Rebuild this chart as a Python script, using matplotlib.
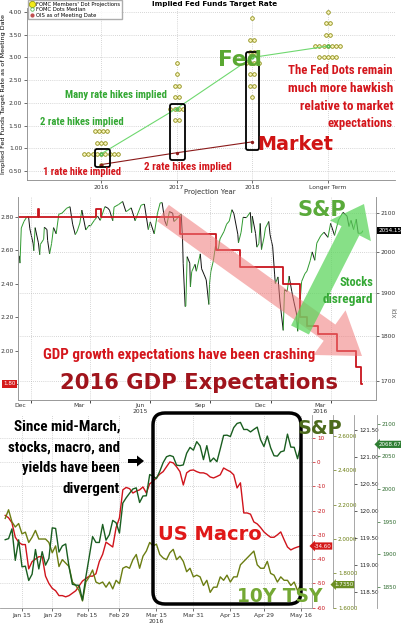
import numpy as np
import pandas as pd
import matplotlib
matplotlib.use("Agg")
import matplotlib.pyplot as plt
import matplotlib.dates as mdates
from matplotlib.lines import Line2D
from matplotlib.patches import FancyArrow, FancyBboxPatch
from matplotlib.collections import LineCollection
from matplotlib.ticker import FixedLocator, FuncFormatter, NullLocator
import logging
logging.getLogger('matplotlib.font_manager').setLevel(logging.ERROR)

plt.rcParams['font.family'] = ['DejaVu Sans']
plt.rcParams['axes.unicode_minus'] = False

# ---------------- Panel 1 data: FOMC dots vs OIS ----------------
proj_years = ["2016", "2017", "2018", "Longer Term"]
dots_2016_rate = [0.625, 0.875, 1.125, 1.375]
dots_2016_n = [1, 9, 3, 4]
dots_2017_rate = [1.625, 1.875, 2.125, 2.375, 2.625, 2.875]
dots_2017_n = [2, 4, 2, 2, 1, 1]
dots_2018_rate = [2.125, 2.375, 2.625, 2.875, 3.125, 3.375, 3.875]
dots_2018_n = [1, 2, 2, 4, 2, 2, 1]
dots_lr_rate = [3.0, 3.25, 3.5, 3.75, 4.0]
dots_lr_n = [5, 7, 2, 2, 1]
fomc_median = [0.875, 1.875, 3.0, 3.25]
ois_rate = [0.64, 0.90, 1.14]

# ---------------- Panel 2 data: S&P 500 vs 2016 GDP forecast ----------------
spx_p2_dates = ['2014-12-15', '2014-12-16', '2014-12-18', '2014-12-22', '2014-12-26', '2014-12-29', '2014-12-31',
                '2015-01-05', '2015-01-06', '2015-01-08', '2015-01-13', '2015-01-15', '2015-01-16', '2015-01-21',
                '2015-01-22', '2015-01-26', '2015-01-27', '2015-01-30', '2015-02-02', '2015-02-05', '2015-02-09',
                '2015-02-13', '2015-02-18', '2015-02-25', '2015-03-02', '2015-03-06', '2015-03-10', '2015-03-13',
                '2015-03-17', '2015-03-20', '2015-03-26', '2015-03-31', '2015-04-02', '2015-04-08', '2015-04-13',
                '2015-04-17', '2015-04-24', '2015-04-28', '2015-05-01', '2015-05-06', '2015-05-08', '2015-05-15',
                '2015-05-21', '2015-05-26', '2015-05-29', '2015-06-03', '2015-06-09', '2015-06-12', '2015-06-18',
                '2015-06-23', '2015-06-29', '2015-07-02', '2015-07-08', '2015-07-13', '2015-07-17', '2015-07-20',
                '2015-07-24', '2015-07-27', '2015-07-31', '2015-08-05', '2015-08-07', '2015-08-11', '2015-08-14',
                '2015-08-18', '2015-08-20', '2015-08-21', '2015-08-24', '2015-08-25', '2015-08-27', '2015-08-31',
                '2015-09-01', '2015-09-03', '2015-09-08', '2015-09-10', '2015-09-16', '2015-09-18', '2015-09-22',
                '2015-09-25', '2015-09-29', '2015-09-30', '2015-10-02', '2015-10-06', '2015-10-09', '2015-10-13',
                '2015-10-16', '2015-10-22', '2015-10-26', '2015-10-30', '2015-11-03', '2015-11-06', '2015-11-12',
                '2015-11-13', '2015-11-17', '2015-11-20', '2015-11-25', '2015-12-01', '2015-12-03', '2015-12-04',
                '2015-12-09', '2015-12-11', '2015-12-14', '2015-12-16', '2015-12-18', '2015-12-22', '2015-12-24',
                '2015-12-29', '2015-12-31', '2016-01-04', '2016-01-07', '2016-01-08', '2016-01-12', '2016-01-15',
                '2016-01-20', '2016-01-22', '2016-01-26', '2016-01-29', '2016-02-02', '2016-02-05', '2016-02-09',
                '2016-02-11', '2016-02-17', '2016-02-22', '2016-02-25', '2016-03-01', '2016-03-04', '2016-03-08',
                '2016-03-11', '2016-03-17', '2016-03-22', '2016-03-28', '2016-04-01', '2016-04-07', '2016-04-13',
                '2016-04-20', '2016-04-26', '2016-04-29', '2016-05-02', '2016-05-06', '2016-05-10', '2016-05-13',
                '2016-05-18', '2016-05-20']
spx_p2_vals = [1990, 1972, 2061, 2078, 2089, 2091, 2059,
               2021, 2003, 2062, 2023, 1993, 2019, 2032,
               2063, 2057, 2029, 1995, 2021, 2062, 2046,
               2097, 2100, 2113, 2117, 2071, 2044, 2053,
               2074, 2108, 2056, 2068, 2066, 2081, 2092,
               2081, 2117, 2114, 2108, 2080, 2116, 2123,
               2131, 2104, 2107, 2114, 2080, 2094, 2121,
               2124, 2057, 2077, 2046, 2100, 2127, 2128,
               2080, 2067, 2104, 2100, 2078, 2084, 2092,
               2097, 2035, 1971, 1867, 1868, 1988, 1972,
               1914, 1951, 1969, 1952, 1995, 1958, 1943,
               1931, 1872, 1920, 1951, 1979, 2014, 2003,
               2033, 2052, 2071, 2079, 2109, 2099, 2045,
               2023, 2050, 2089, 2088, 2102, 2049, 2092,
               2047, 2012, 2021, 2073, 2006, 2038, 2061,
               2078, 2044, 2013, 1943, 1922, 1938, 1880,
               1812, 1907, 1903, 1940, 1903, 1880, 1852,
               1810, 1927, 1946, 1952, 1978, 2000, 1979,
               2022, 2041, 2050, 2037, 2073, 2042, 2082,
               2102, 2092, 2065, 2081, 2057, 2084, 2047,
               2048, 2054.15]
gdp16_dates = ['2014-12-13', '2015-01-12', '2015-01-14', '2015-04-10', '2015-04-18', '2015-08-16',
               '2015-10-10', '2015-11-15', '2016-01-19', '2016-02-14', '2016-02-25', '2016-03-13',
               '2016-04-11', '2016-05-09', '2016-05-17', '2016-05-19']
gdp16_vals = [2.80, 2.85, 2.80, 2.85, 2.80, 2.70,
              2.60, 2.50, 2.40, 2.20, 2.15, 2.10,
              2.00, 1.90, 1.80, 1.80]

# ---------------- Panel 3 data: S&P, US Macro surprise, 10Y yield (daily) ----------------
p3_holidays = ['2016-01-18', '2016-02-15', '2016-03-25']
p3_dates = [d for d in pd.bdate_range('2016-01-08', '2016-05-16') if d.strftime('%Y-%m-%d') not in p3_holidays]
spx16 = [1922.03, 1923.67, 1938.68, 1890.28, 1921.84, 1880.33, 1881.33, 1859.33, 1868.99, 1906.90,
         1877.08, 1903.63, 1882.95, 1893.36, 1940.24,
         1939.38, 1903.03, 1912.53, 1915.45, 1880.05, 1853.44, 1852.21, 1851.86, 1829.08, 1864.78,
         1895.58, 1926.82, 1917.83, 1917.78, 1945.50, 1921.27, 1929.80, 1951.70, 1948.05, 1932.23,
         1978.35, 1986.45, 1993.40, 1999.99, 2001.76, 1979.26, 1989.26, 1989.57, 2022.19, 2019.64,
         2015.93, 2027.22, 2040.59, 2049.58, 2051.60, 2049.80, 2036.71, 2035.94, 2037.05, 2055.01,
         2063.95, 2059.74,
         2072.78, 2066.13, 2045.17, 2066.66, 2041.91, 2047.60, 2041.99, 2061.72, 2082.42, 2082.78,
         2080.73, 2094.34, 2100.80, 2102.40, 2091.48, 2091.58, 2087.79, 2091.70, 2095.15, 2075.81,
         2065.30,
         2081.43, 2063.37, 2051.12, 2050.63, 2057.14, 2058.69, 2084.39, 2064.46, 2064.11, 2046.61,
         2068.67]
ust10y = [2.12, 2.17, 2.10, 2.07, 2.09, 2.03, 2.04, 1.98, 2.01, 2.05,
          2.00, 2.00, 2.00, 1.98, 1.92,
          1.96, 1.84, 1.88, 1.86, 1.84, 1.75, 1.73, 1.70, 1.64, 1.75,
          1.78, 1.82, 1.75, 1.74, 1.75, 1.72, 1.75, 1.71, 1.76, 1.74,
          1.83, 1.84, 1.83, 1.88, 1.91, 1.83, 1.90, 1.93, 1.98, 1.96,
          1.97, 1.91, 1.89, 1.88, 1.92, 1.94, 1.88, 1.90, 1.87, 1.81,
          1.83, 1.78,
          1.79, 1.78, 1.73, 1.76, 1.69, 1.72, 1.72, 1.78, 1.76, 1.79,
          1.75, 1.78, 1.78, 1.85, 1.87, 1.89, 1.91, 1.93, 1.85, 1.83,
          1.83,
          1.87, 1.80, 1.79, 1.75, 1.78, 1.76, 1.76, 1.73, 1.75, 1.70,
          1.735]
us_macro = [-22, -23, -25, -31, -33, -34, -34, -44, -41, -40,
            -39, -39, -47, -50, -52, -53, -55, -55, -55.5, -55,
            -54, -53, -51, -49, -48, -47, -47, -46, -41, -38,
            -33, -34, -35, -27, -23, -11.5, -10.5, -11, -12.8, -12,
            -11.5, -10.3, -12.8, -9, -8, -6.5, -5, -4, -2, 0,
            -0.4, -2, -4, -9.5, -4.5, -3.5, -3.3, -4, -4.5, -4.5,
            -5, -6.2, -6.6, -6, -5.3, -2.5, -3.3, -4, -5.3, -10.7,
            -8.6, -21, -21, -21.5, -24.7, -25.5, -27, -28.8, -30, -31,
            -31, -30, -28.8, -32, -35, -36.2, -35.5, -35, -34.6]
p3_tick_dates = ['2016-01-15', '2016-01-29', '2016-02-15', '2016-02-29', '2016-03-15',
                 '2016-03-31', '2016-04-15', '2016-04-29', '2016-05-16']
p3_tick_labels = ['Jan 15', 'Jan 29', 'Feb 15', 'Feb 29', 'Mar 15\n2016',
                  'Mar 31', 'Apr 15', 'Apr 29', 'May 16']

# ---------------- figure ----------------
W, H = 401, 625
fig = plt.figure(figsize=(W / 100, H / 100), dpi=100)
fig.patch.set_facecolor('white')


def frect(x0, y0, x1, y1):
    return [x0 / W, 1 - y1 / H, (x1 - x0) / W, (y1 - y0) / H]


COND = ['Roboto Condensed', 'Open Sans Condensed', 'Liberation Sans Narrow', 'Roboto', 'DejaVu Sans']
GRID = dict(ls=(0, (1, 2)), color='#b0b0b0', lw=0.5)

# ================= Panel 1 =================
ax1 = fig.add_axes(frect(27, 8, 395, 180))
ax1.set_xlim(-0.98, 3.89)
ax1.set_ylim(0.30, 4.09)
yt = np.arange(0.5, 4.01, 0.5)
ax1.set_yticks(yt)
ax1.set_yticklabels([f'{v:.2f}' for v in yt])
ax1.set_xticks(range(len(proj_years)))
ax1.set_xticklabels(proj_years)
ax1.tick_params(labelsize=4.3, length=2, width=0.5, pad=1.5, colors='#333333')
ax1.grid(True, **GRID)
for s in ['top', 'right']:
    ax1.spines[s].set_visible(False)
for s in ['left', 'bottom']:
    ax1.spines[s].set_color('#888888')
    ax1.spines[s].set_linewidth(0.6)

all_rates = [dots_2016_rate, dots_2017_rate, dots_2018_rate, dots_lr_rate]
all_n = [dots_2016_n, dots_2017_n, dots_2018_n, dots_lr_n]
for i, (rates, ns) in enumerate(zip(all_rates, all_n)):
    for r, n in zip(rates, ns):
        xs = i + (np.arange(n) - (n - 1) / 2) * 0.056
        ax1.plot(xs, [r] * n, ls='none', marker='o', ms=2.6, mfc='#fbf7c0',
                 mec='#8c8c14', mew=0.6, zorder=3)
ax1.plot(range(len(fomc_median)), fomc_median, color='#6fd86f', lw=0.8, marker='o', ms=2,
         mfc='none', mec='#55bb55', zorder=4)
ax1.plot(range(len(ois_rate)), ois_rate, color='#8b1a1a', lw=0.8, marker='o', ms=1.4, zorder=4)
ax1.set_ylabel('Implied Fed Funds Target Rate as of Meeting Date', fontsize=4.6, labelpad=2)
fig.text(210 / W, 1 - 192 / H, 'Projection Year', ha='center', va='center', fontsize=5, color='#333333')

handles = [Line2D([], [], ls='none', marker='o', ms=4.5, mfc='#f2ea1a', mec='#9a9a10', mew=0.6),
           Line2D([], [], ls='none', marker='o', ms=2.5, mfc='none', mec='#55bb55', mew=0.6),
           Line2D([], [], ls='none', marker='o', ms=2, mfc='#c05050', mec='#c05050')]
fig.legend(handles, ["FOMC Members' Dot Projections", 'FOMC Dots Median', 'OIS as of Meeting Date'],
           loc='upper left', bbox_to_anchor=(28 / W, 1.0), fontsize=3.8, frameon=True,
           edgecolor='#999999', fancybox=False, borderpad=0.3, handletextpad=0.2,
           labelspacing=0.1, handlelength=1.0, borderaxespad=0)
fig.text(215 / W, 1 - 4 / H, 'Implied Fed Funds Target Rate', ha='center', va='center',
         fontsize=5.2, fontweight='bold')

# ================= Panel 2 =================
ax2 = fig.add_axes(frect(18, 197, 376, 400))
ax2r = ax2.twinx()
x_lo = mdates.date2num(pd.Timestamp('2014-12-13'))
x_hi = mdates.date2num(pd.Timestamp('2016-06-09'))
ax2.set_xlim(x_lo, x_hi)
ax2.set_ylim(1.704, 2.92)
ax2r.set_yscale('log')
ax2r.set_ylim(1660, 2143)

sx = mdates.date2num(pd.to_datetime(spx_p2_dates))
sv = np.array(spx_p2_vals, dtype=float)
pts = np.column_stack([sx, sv])
segs = np.stack([pts[:-1], pts[1:]], axis=1)
cols = ['#2f9a2f' if b >= a else '#111111' for a, b in zip(sv[:-1], sv[1:])]
ax2r.add_collection(LineCollection(segs, colors=cols, linewidths=0.7))

gx = mdates.date2num(pd.to_datetime(gdp16_dates))
ax2.step(gx, gdp16_vals, where='post', color='#c8141c', lw=1.3)
ax2.set_zorder(ax2r.get_zorder() + 1)
ax2.patch.set_visible(False)
ax2r.patch.set_visible(False)

gyt = [1.8, 2.0, 2.2, 2.4, 2.6, 2.8]
ax2.set_yticks(gyt)
# the last GDP value is shown in a red tag, so its plain tick label is left blank
ax2.set_yticklabels(['' if abs(v - gdp16_vals[-1]) < 1e-9 else f'{v:.2f}' for v in gyt])
ax2r.yaxis.set_major_locator(FixedLocator([1700, 1800, 1900, 2000, 2100]))
ax2r.yaxis.set_major_formatter(FuncFormatter(lambda v, p: f'{v:.0f}'))
ax2r.yaxis.set_minor_locator(NullLocator())
ax2r.grid(True, axis='y', **GRID)

mid_months = ['2014-12-16', '2015-03-16', '2015-06-16', '2015-09-16', '2015-12-16', '2016-03-16']
ax2.set_xticks(mdates.date2num(pd.to_datetime(mid_months)))
ax2.set_xticklabels(['Dec', 'Mar', 'Jun\n2015', 'Sep', 'Dec', 'Mar\n2016'])
q_starts = ['2015-01-01', '2015-04-01', '2015-07-01', '2015-10-01', '2016-01-01', '2016-04-01']
ax2.set_xticks(mdates.date2num(pd.to_datetime(q_starts)), minor=True)
ax2.grid(True, axis='x', which='minor', **GRID)
ax2.tick_params(axis='x', which='major', length=0, labelsize=4.3, pad=2, colors='#333333')
ax2.tick_params(axis='x', which='minor', length=2, width=0.5)
ax2.tick_params(axis='y', labelsize=4.3, length=2, width=0.5, pad=1, colors='#333333')
ax2r.tick_params(axis='y', labelsize=4.3, length=2, width=0.5, pad=1, colors='#333333')
for a in (ax2, ax2r):
    a.spines['top'].set_visible(False)
    for s in ['left', 'right', 'bottom']:
        a.spines[s].set_color('#999999')
        a.spines[s].set_linewidth(0.6)

ax2r.annotate(f'{spx_p2_vals[-1]:.2f}', xy=(1, spx_p2_vals[-1]), xycoords=('axes fraction', 'data'),
              xytext=(1.5, 0), textcoords='offset points', ha='left', va='center', fontsize=4.1,
              color='white', bbox=dict(boxstyle='square,pad=0.2', fc='black', ec='none'),
              annotation_clip=False)
ax2.annotate(f'{gdp16_vals[-1]:.2f}', xy=(0, gdp16_vals[-1]), xycoords=('axes fraction', 'data'),
             xytext=(-1.5, 0), textcoords='offset points', ha='right', va='center', fontsize=4.1,
             color='white', bbox=dict(boxstyle='square,pad=0.2', fc='#d41a1a', ec='none'),
             annotation_clip=False, zorder=10)
fig.text(392 / W, 1 - 313 / H, 'Idx', rotation=270, ha='center', va='center', fontsize=5,
         color='#777777')

# ================= Panel 3 =================
ax3 = fig.add_axes(frect(0, 415, 312, 608))
ax3b = ax3.twinx()
ax3c = ax3.twinx()
ax3d = ax3.twinx()
xi = np.arange(len(p3_dates))
date_index = {d.strftime('%Y-%m-%d'): i for i, d in enumerate(p3_dates)}


def p3_pos(ds):
    if ds in date_index:
        return date_index[ds]
    return date_index[(pd.Timestamp(ds) + pd.Timedelta(days=1)).strftime('%Y-%m-%d')] - 0.5


ax3.set_xlim(-1.55, 91.3)
ax3.set_ylim(-60.1, 19.3)
ax3b.set_ylim(1.599, 2.721)
ax3c.set_ylim(118.2, 121.78)
ax3d.set_ylim(1817, 2113.8)

ax3.plot(xi, us_macro, color='#d0141c', lw=1.0)
ax3b.plot(xi, ust10y, color='#6b7d12', lw=1.0)
ax3d.plot(xi, spx16, color='#1a5e20', lw=1.0)

ax3.set_xticks([p3_pos(d) for d in p3_tick_dates])
ax3.set_xticklabels(p3_tick_labels)
ax3.tick_params(axis='x', labelsize=4.3, length=2, width=0.5, pad=1.5, colors='#333333')
ax3.grid(True, **GRID)

specs = [(ax3, 1.0, '#c8141c', np.arange(-60, 11, 10), '{:.0f}'),
         (ax3b, 333 / 312, '#6b7d12', [1.6, 1.8, 2.0, 2.2, 2.4, 2.6], '{:.4f}'),
         (ax3c, 354 / 312, '#222222', [118.5, 119.0, 119.5, 120.0, 120.5, 121.0, 121.5], '{:.2f}'),
         (ax3d, 377 / 312, '#2e6b2e', [1850, 1900, 1950, 2000, 2050, 2100], '{:.0f}')]
for a, pos, col, ticks, fmt in specs:
    for s in ['left', 'top']:
        a.spines[s].set_visible(False)
    if a is not ax3:
        a.spines['bottom'].set_visible(False)
    a.spines['right'].set_position(('axes', pos))
    a.spines['right'].set_color('#999999')
    a.spines['right'].set_linewidth(0.6)
    a.yaxis.tick_right()
    a.set_yticks(ticks)
    a.set_yticklabels([fmt.format(t) for t in ticks])
    a.tick_params(axis='y', labelsize=4.1, length=2, width=0.5, pad=1.5, colors=col)
ax3.spines['bottom'].set_color('#999999')
ax3.spines['bottom'].set_linewidth(0.6)

lab = dict(xycoords=('axes fraction', 'data'), textcoords='offset points', ha='left', va='center',
           fontsize=4.0, color='white', annotation_clip=False)
ax3d.annotate(f'{spx16[-1]:.2f}', xy=(377 / 312, spx16[-1]), xytext=(1, 0),
              bbox=dict(boxstyle='larrow,pad=0.2', fc='#2e7d32', ec='none'), **lab)
ax3.annotate(f'{us_macro[-1]:.2f}', xy=(1.0, us_macro[-1]), xytext=(1, 0),
             bbox=dict(boxstyle='larrow,pad=0.2', fc='#d41a1a', ec='none'), **lab)
ax3b.annotate(f'{ust10y[-1]:.4f}', xy=(333 / 312, ust10y[-1]), xytext=(1, 0),
              bbox=dict(boxstyle='larrow,pad=0.2', fc='#6b8e23', ec='none'), **lab)

# ================= Overlay annotations =================
ov = fig.add_axes([0, 0, 1, 1])
ov.set_xlim(0, W)
ov.set_ylim(H, 0)
ov.axis('off')
ov.set_zorder(50)
renderer = fig.canvas.get_renderer()


def FT(x, y, s, width, cond=True, **kw):
    """Text whose size is chosen so it spans `width` pixels, as in the reference."""
    if cond:
        kw.update(family=COND, fontweight='bold')
    else:
        kw.setdefault('fontweight', 'bold')
    t = ov.text(x, y, s, fontsize=10, va='center', **kw)
    bb = t.get_window_extent(renderer)
    t.set_fontsize(10 * width / bb.width)
    return t


GREEN_T = '#34a834'
RED_T = '#d4161c'

# panel 1 boxes
for (bx, by, bw, bh) in [(95, 149, 15, 18), (170, 104, 15, 56), (246, 52, 13, 98)]:
    ov.add_patch(FancyBboxPatch((bx, by), bw, bh, boxstyle='round,pad=0,rounding_size=2',
                                fc='none', ec='black', lw=1.3))
FT(240, 60, 'Fed', 44, cond=False, color='#5aa832', ha='center')
FT(295, 144, 'Market', 76, cond=False, color='#d01414', ha='center')
FT(116, 95, 'Many rate hikes implied', 103, color=GREEN_T, ha='center')
FT(82, 122, '2 rate hikes implied', 85, color=GREEN_T, ha='center')
FT(82, 172, '1 rate hike implied', 79, color=RED_T, ha='center')
FT(188, 167, '2 rate hikes implied', 88, color=RED_T, ha='center')
for k, (line, wd) in enumerate(zip(['The Fed Dots remain', 'much more hawkish', 'relative to market',
                                    'expectations'], [104, 106, 93, 65])):
    FT(393, 70 + 18 * k, line, wd, color=RED_T, ha='right')

# panel 2 arrows and text
ov.add_patch(FancyArrow(163, 213, 199, 143, width=20, head_width=55, head_length=40,
                        length_includes_head=True, fc='#f07878', ec='none', alpha=0.55, zorder=2))
ov.add_patch(FancyArrow(300, 330, 64, -126, width=20, head_width=46, head_length=30,
                        length_includes_head=True, fc='#5fd65f', ec='none', alpha=0.75, zorder=2))
FT(322, 210, 'S&P', 49, cond=False, color='#5aaa3a', ha='center')
FT(373, 283, 'Stocks', 34, color=GREEN_T, ha='right')
FT(373, 300, 'disregard', 51, color=GREEN_T, ha='right')
FT(179, 355, 'GDP growth expectations have been crashing', 272, color=RED_T, ha='center')
FT(199, 383, '2016 GDP Expectations', 278, cond=False, color='#a0141c', ha='center')

# panel 3 box, arrow and text
ov.add_patch(FancyBboxPatch((153, 413), 148, 191, boxstyle='round,pad=0,rounding_size=12',
                            fc='none', ec='black', lw=2.5))
for k, (line, wd) in enumerate(zip(['Since mid-March,', 'stocks, macro, and', 'yields have been',
                                    'divergent'], [107, 113, 98, 57])):
    FT(120, 427 + 20.5 * k, line, wd, color='black', ha='right')
ov.add_patch(FancyArrow(128, 461, 16, 0, width=4, head_width=11, head_length=7,
                        length_includes_head=True, fc='black', ec='none'))
FT(320, 428, 'S&P', 45, cond=False, color='#4c6a1c', ha='center')
FT(210, 534, 'US Macro', 104, cond=False, color='#e01818', ha='center')
FT(280, 597, '10Y TSY', 86, cond=False, color='#74a834', ha='center')

fig.savefig('out.png', dpi=100, facecolor='white')
